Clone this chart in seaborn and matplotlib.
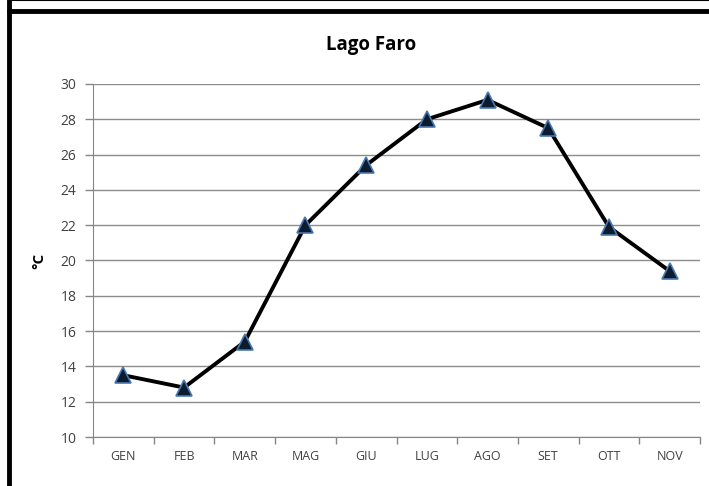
import numpy as np
import pandas as pd
import matplotlib.pyplot as plt
import seaborn as sns
from matplotlib.lines import Line2D

# --- dati ---
mesi = ["GEN", "FEB", "MAR", "MAG", "GIU", "LUG", "AGO", "SET", "OTT", "NOV"]
temperature = [13.5, 12.8, 15.4, 22.0, 25.4, 28.0, 29.1, 27.5, 21.9, 19.4]
y_ticks = [10, 12, 14, 16, 18, 20, 22, 24, 26, 28, 30]

df = pd.DataFrame({"mese": mesi, "temp": temperature})

sns.set_style("white")
plt.rcParams['font.family'] = ['Open Sans', 'DejaVu Sans']

fig = plt.figure(figsize=(7.09, 4.86), dpi=100)
ax = fig.add_axes([93 / 709, 49 / 486, 607 / 709, 353 / 486])

sns.lineplot(data=df, x="mese", y="temp", ax=ax, color="black", linewidth=2.8,
             marker="^", markersize=12, markerfacecolor="#0d1b2e",
             markeredgecolor="#4a78b0", markeredgewidth=1.2, sort=False)

ax.set_xlim(-0.5, len(mesi) - 0.5)
ax.set_ylim(10, 30)
ax.set_yticks(y_ticks)
ax.set_yticklabels([str(t) for t in y_ticks], fontsize=10, color="#404040")
ax.set_xticks(range(len(mesi)))
ax.set_xticklabels(mesi, fontsize=9, color="#404040")
ax.tick_params(axis="x", length=0, pad=9)
ax.tick_params(axis="y", length=6, width=1, color="#868686", direction="out", left=True, pad=6)

# tacche x ai bordi delle categorie
ax.set_xticks(np.arange(-0.5, len(mesi)), minor=True)
ax.tick_params(axis="x", which="minor", length=5, width=1, color="#868686", bottom=True)

ax.grid(axis="y", color="#8c8c8c", linewidth=1)
ax.set_axisbelow(True)
for s in ["top", "right"]:
    ax.spines[s].set_visible(False)
ax.spines["left"].set_color("#868686")
ax.spines["bottom"].set_color("#868686")

ax.set_xlabel("")
ax.set_ylabel("°C", fontsize=11, fontweight="bold", color="black", labelpad=10)

fig.text(371 / 709, 1 - 45 / 486, "Lago Faro", ha="center", va="center",
         fontsize=13.5, fontweight="bold", color="black")

# cornice nera
fig.add_artist(Line2D([9 / 709, 1], [1 - 11 / 486, 1 - 11 / 486], color="black", linewidth=3.5))
fig.add_artist(Line2D([9 / 709, 1], [1 - 0.5 / 486, 1 - 0.5 / 486], color="black", linewidth=1.5))
fig.add_artist(Line2D([9 / 709, 9 / 709], [0, 1], color="black", linewidth=3.5))

fig.savefig("out.png", dpi=100)
